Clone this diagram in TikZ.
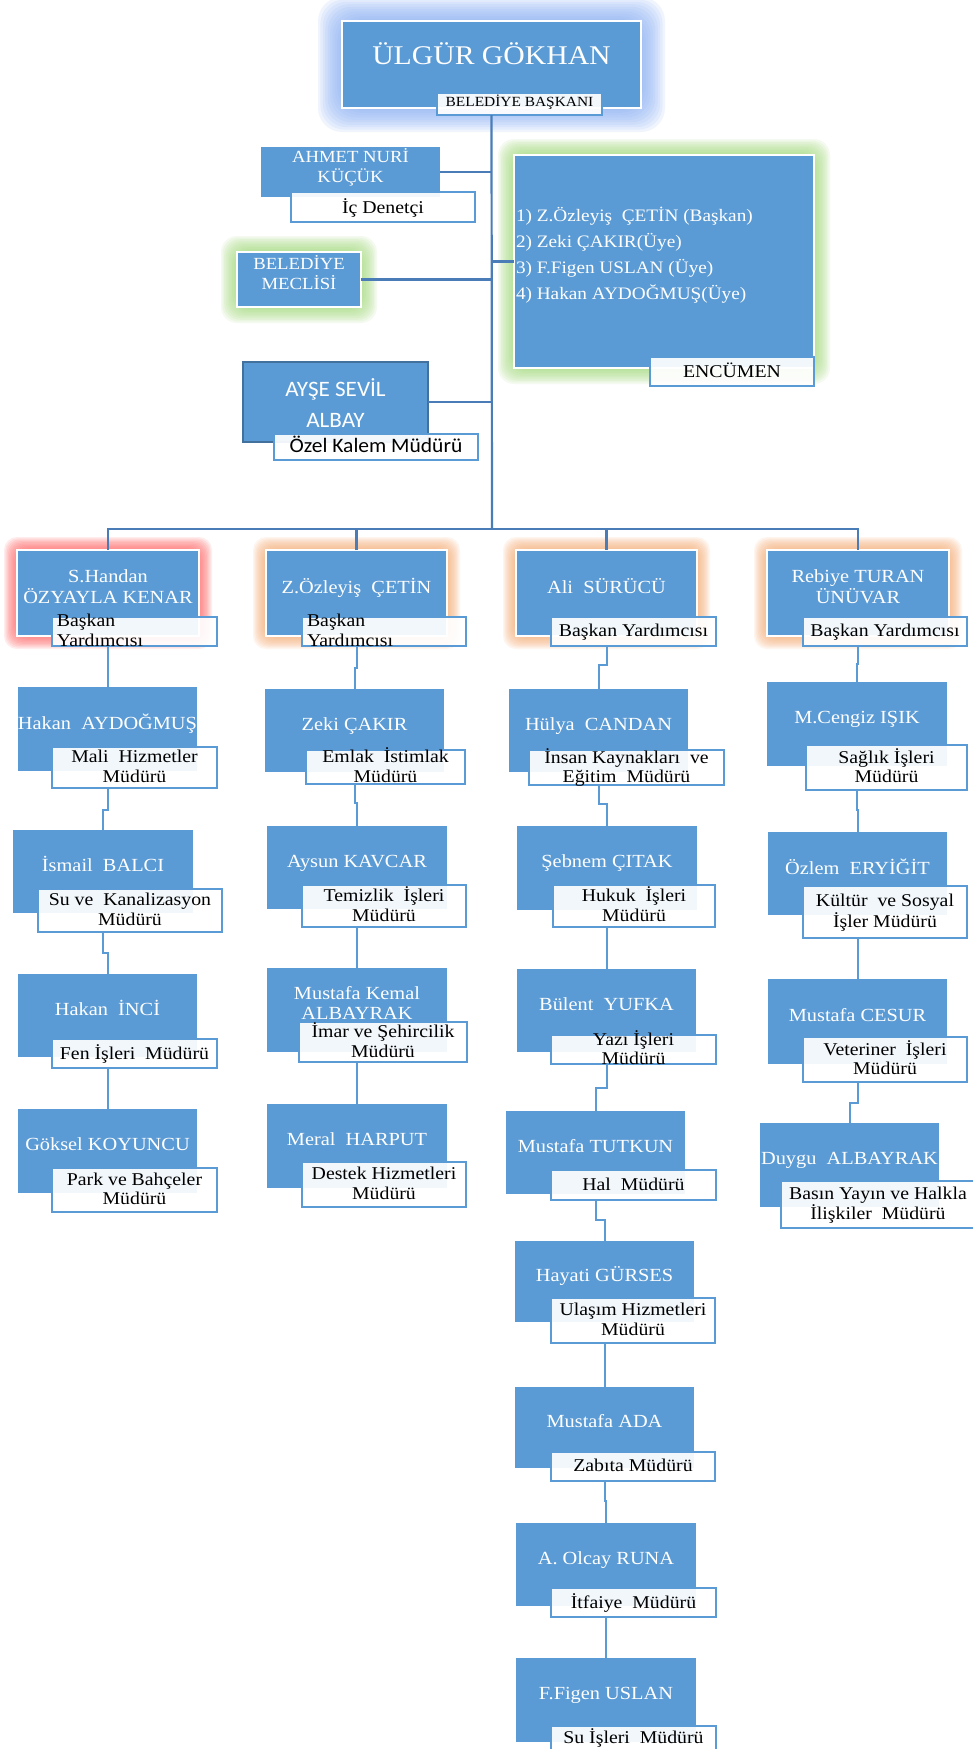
\documentclass[tikz,border=0pt]{standalone}
\usepackage{fontspec}
\setmainfont{Liberation Serif}[FakeStretch=1.1]
\newfontfamily\calib{Carlito}[FakeStretch=1.05]
\usetikzlibrary{backgrounds,calc}
\definecolor{boxblue}{HTML}{5B9BD5}
\definecolor{linkblue}{HTML}{5B9BD5}
\definecolor{trunkblue}{HTML}{4A7DB8}
\definecolor{aysedge}{HTML}{41719C}
\definecolor{glowblue}{HTML}{8AB0F5}
\definecolor{glowgreen}{HTML}{A6DC7E}
\definecolor{glowred}{HTML}{FF6E6E}
\definecolor{gloworange}{HTML}{F7AE78}
\newcommand\tx[2]{\raisebox{#1}[0pt][0pt]{\begin{tabular}{@{}c@{}}#2\end{tabular}}}
\newcommand\txl[4]{\makebox[#1][l]{\hspace{#2}\raisebox{#3}[0pt][0pt]{\begin{tabular}{@{}l@{}}#4\end{tabular}}}}
\newcommand\bx[7]{\node[#1,minimum width={(#5-#3)*1pt},minimum height={(#6-#4)*1pt}] (#2) at ({(#3+#5)/2},{(#4+#6)/2}) {#7};}
\newcommand\link[4]{\draw[conn] (#1.center |- #2.south) -- ++(0,#4) -| (#3.north);}
\newcommand\glow[4]{\foreach \k in {1,...,10}{\fill[#1,opacity=#4,rounded corners=#3pt] ([shift={(-\k*#3/10,-\k*#3/10)}]#2.north west) rectangle ([shift={(\k*#3/10,\k*#3/10)}]#2.south east);}}
\begin{document}
\begin{tikzpicture}[x=1pt,y=-1pt,
  every node/.style={inner sep=0pt,outer sep=0pt},
  namebox/.style={fill=boxblue,text=white,font=\fontsize{18.5}{20}\selectfont},
  whitebox/.style={namebox,draw=white,line width=1.5pt},
  lbl/.style={fill=white,fill opacity=0.92,text opacity=1,draw=boxblue,line width=1.6pt,text=black,font=\fontsize{18}{19.5}\selectfont},
  conn/.style={draw=linkblue,line width=2pt},
  trunk/.style={draw=trunkblue,line width=2.2pt}]
\useasboundingbox (0,0) rectangle (973,1749);
% top
\bx{whitebox,font=\fontsize{27}{30}\selectfont}{top}{342}{21}{641}{108}{\tx{0pt}{ÜLGÜR GÖKHAN}}
\bx{lbl,font=\fontsize{14}{15}\selectfont,line width=1.2pt}{toplbl}{437}{93}{602}{115}{\tx{-3pt}{BELEDİYE BAŞKANI}}
% side boxes
\bx{namebox,font=\fontsize{17}{20}\selectfont}{ahmet}{261}{147}{440}{197}{\tx{-1pt}{AHMET NURİ\\KÜÇÜK}}
\bx{lbl}{ahmetl}{291}{192}{475}{222}{\tx{-6pt}{İç Denetçi}}
\bx{whitebox,font=\fontsize{17}{19}\selectfont}{meclis}{237}{252}{361}{307}{\tx{0pt}{BELEDİYE\\MECLİSİ}}
\bx{whitebox,font=\fontsize{17.5}{26}\selectfont}{enc}{514}{155}{814}{368}{\txl{300pt}{2pt}{1.6pt}{1) Z.Özleyiş \ ÇETİN (Başkan)\\2) Zeki ÇAKIR(Üye)\\3) F.Figen USLAN (Üye)\\4) Hakan AYDOĞMUŞ(Üye)}}
\bx{lbl,font=\fontsize{18}{20}\selectfont}{encl}{650}{357}{814}{386}{\tx{-6pt}{ENCÜMEN}}
\bx{namebox,draw=aysedge,line width=2pt,font=\calib\fontsize{22}{31}\selectfont}{ayse}{243}{362}{428}{442}{\tx{-9pt}{AYŞE SEVİL\\ALBAY}}
\bx{lbl,font=\calib\fontsize{20.5}{23}\selectfont}{aysel}{274}{434}{478}{460}{\tx{-6pt}{Özel Kalem Müdürü}}
% vice presidents
\bx{whitebox}{vp1}{17}{550}{199}{636}{\tx{0pt}{S.Handan\\ÖZYAYLA KENAR}}
\bx{lbl}{vp1l}{52}{617}{217}{646}{\txl{165pt}{5pt}{-5.5pt}{Başkan\\Yardımcısı}}
\bx{whitebox}{vp2}{266}{550}{447}{636}{\tx{0pt}{Z.Özleyiş \ ÇETİN}}
\bx{lbl}{vp2l}{302}{617}{466}{646}{\txl{164pt}{5pt}{-5.5pt}{Başkan\\Yardımcısı}}
\bx{whitebox}{vp3}{516}{550}{697}{636}{\tx{0pt}{Ali \ SÜRÜCÜ}}
\bx{lbl}{vp3l}{551}{617}{716}{646}{\tx{-5.5pt}{Başkan Yardımcısı}}
\bx{whitebox}{vp4}{767}{550}{949}{636}{\tx{0pt}{Rebiye TURAN\\ÜNÜVAR}}
\bx{lbl}{vp4l}{803}{617}{967}{646}{\tx{-5.5pt}{Başkan Yardımcısı}}
% column 1
\bx{namebox}{c1a}{18}{687}{197}{771}{\tx{0pt}{Hakan \ AYDOĞMUŞ}}
\bx{lbl}{c1al}{52}{747}{217}{788}{\tx{-5.5pt}{Mali \ Hizmetler\\Müdürü}}
\bx{namebox}{c1b}{13}{830}{193}{913}{\tx{0pt}{İsmail \ BALCI}}
\bx{lbl}{c1bl}{38}{889}{222}{932}{\tx{-5.5pt}{Su ve \ Kanalizasyon\\Müdürü}}
\bx{namebox}{c1c}{18}{974}{197}{1057}{\tx{0pt}{Hakan \ İNCİ}}
\bx{lbl}{c1cl}{52}{1039}{217}{1068}{\tx{-5.5pt}{Fen İşleri \ Müdürü}}
\bx{namebox}{c1d}{18}{1109}{197}{1193}{\tx{0pt}{Göksel KOYUNCU}}
\bx{lbl}{c1dl}{52}{1168}{217}{1212}{\tx{-5.5pt}{Park ve Bahçeler\\Müdürü}}
% column 2
\bx{namebox}{c2a}{265}{689}{444}{772}{\tx{0pt}{Zeki ÇAKIR}}
\bx{lbl}{c2al}{306}{750}{465}{784}{\tx{-5.5pt}{Emlak \ İstimlak\\Müdürü}}
\bx{namebox}{c2b}{267}{826}{447}{909}{\tx{0pt}{Aysun KAVCAR}}
\bx{lbl}{c2bl}{302}{885}{466}{927}{\tx{-5.5pt}{Temizlik \ İşleri\\Müdürü}}
\bx{namebox}{c2c}{267}{968}{447}{1052}{\tx{0pt}{Mustafa Kemal\\ALBAYRAK}}
\bx{lbl}{c2cl}{299}{1022}{467}{1062}{\tx{-5.5pt}{İmar ve Şehircilik\\Müdürü}}
\bx{namebox}{c2d}{267}{1104}{447}{1188}{\tx{0pt}{Meral \ HARPUT}}
\bx{lbl}{c2dl}{302}{1162}{466}{1207}{\tx{-5.5pt}{Destek Hizmetleri\\Müdürü}}
% column 3
\bx{namebox}{c3a}{509}{689}{688}{772}{\tx{0pt}{Hülya \ CANDAN}}
\bx{lbl}{c3al}{529}{750}{724}{785}{\tx{-5.5pt}{İnsan Kaynakları \ ve\\Eğitim \ Müdürü}}
\bx{namebox}{c3b}{517}{826}{697}{910}{\tx{0pt}{Şebnem ÇITAK}}
\bx{lbl}{c3bl}{553}{885}{715}{927}{\tx{-5.5pt}{Hukuk \ İşleri\\Müdürü}}
\bx{namebox}{c3c}{517}{969}{696}{1052}{\tx{0pt}{Bülent \ YUFKA}}
\bx{lbl}{c3cl}{551}{1035}{716}{1064}{\tx{-5.5pt}{Yazı İşleri\\Müdürü}}
\bx{namebox}{c3d}{506}{1111}{685}{1194}{\tx{0pt}{Mustafa TUTKUN}}
\bx{lbl}{c3dl}{551}{1170}{716}{1200}{\tx{-5.5pt}{Hal \ Müdürü}}
\bx{namebox}{c3e}{515}{1241}{694}{1322}{\tx{0pt}{Hayati GÜRSES}}
\bx{lbl}{c3el}{551}{1298}{715}{1343}{\tx{-5.5pt}{Ulaşım Hizmetleri\\Müdürü}}
\bx{namebox}{c3f}{515}{1387}{694}{1468}{\tx{0pt}{Mustafa ADA}}
\bx{lbl}{c3fl}{551}{1452}{715}{1481}{\tx{-5.5pt}{Zabıta Müdürü}}
\bx{namebox}{c3g}{516}{1523}{696}{1606}{\tx{0pt}{A. Olcay RUNA}}
\bx{lbl}{c3gl}{551}{1588}{716}{1617}{\tx{-5.5pt}{İtfaiye \ Müdürü}}
\bx{namebox}{c3h}{516}{1658}{696}{1742}{\tx{0pt}{F.Figen USLAN}}
\bx{lbl}{c3hl}{551}{1726}{716}{1756}{\tx{-2.5pt}{Su İşleri \ Müdürü}}
% column 4
\bx{namebox}{c4a}{767}{682}{947}{766}{\tx{0pt}{M.Cengiz IŞIK}}
\bx{lbl}{c4al}{806}{745}{967}{790}{\tx{-5.5pt}{Sağlık İşleri\\Müdürü}}
\bx{namebox}{c4b}{768}{832}{947}{915}{\tx{0pt}{Özlem \ ERYİĞİT}}
\bx{lbl}{c4bl}{803}{886}{967}{938}{\tx{-5.5pt}{Kültür \ ve Sosyal\\İşler Müdürü}}
\bx{namebox}{c4c}{768}{979}{947}{1064}{\tx{0pt}{Mustafa CESUR}}
\bx{lbl}{c4cl}{803}{1037}{967}{1082}{\tx{-5.5pt}{Veteriner \ İşleri\\Müdürü}}
\bx{namebox}{c4d}{760}{1123}{939}{1207}{\tx{0pt}{Duygu \ ALBAYRAK}}
\bx{lbl}{c4dl}{781}{1181}{975}{1228}{\tx{-5.5pt}{Basın Yayın ve Halkla\\İlişkiler \ Müdürü}}
% trunk and bus
\coordinate (bus) at (492,529);
\draw[trunk] (top.center |- toplbl.south) -- (bus);
\draw[trunk] (vp1.north) |- (bus) -| (vp4.north);
\draw[trunk] (vp2.north) -- (vp2.north |- bus);
\draw[trunk] (vp3.north) -- (vp3.north |- bus);
\draw[trunk] (ahmet.east) -- (ahmet.east -| bus);
\draw[trunk] (meclis.east) -- (meclis.east -| bus);
\draw[trunk] (enc.west) -- (enc.west -| bus);
\draw[trunk] (ayse.east) -- (ayse.east -| bus);
% children links
\link{vp1}{vp1l}{c1a}{20}
\link{c1a}{c1al}{c1b}{22}
\link{c1b}{c1bl}{c1c}{21}
\link{c1c}{c1cl}{c1d}{20}
\link{vp2}{vp2l}{c2a}{22}
\link{c2a}{c2al}{c2b}{19}
\link{c2b}{c2bl}{c2c}{19}
\link{c2c}{c2cl}{c2d}{21}
\link{vp3}{vp3l}{c3a}{19}
\link{c3a}{c3al}{c3b}{19}
\link{c3b}{c3bl}{c3c}{20}
\link{c3c}{c3cl}{c3d}{24}
\link{c3d}{c3dl}{c3e}{20}
\link{c3e}{c3el}{c3f}{22}
\link{c3f}{c3fl}{c3g}{20}
\link{c3g}{c3gl}{c3h}{20}
\link{vp4}{vp4l}{c4a}{18}
\link{c4a}{c4al}{c4b}{20}
\link{c4b}{c4bl}{c4c}{20}
\link{c4c}{c4cl}{c4d}{21}
% glows
\begin{scope}[on background layer]
\fill[white] (0,0) rectangle (973,1749);
\glow{glowblue}{top}{24}{0.12}
\glow{glowgreen}{meclis}{16}{0.12}
\glow{glowgreen}{enc}{16}{0.12}
\glow{glowred}{vp1}{13}{0.13}
\glow{gloworange}{vp2}{13}{0.12}
\glow{gloworange}{vp3}{13}{0.12}
\glow{gloworange}{vp4}{13}{0.12}
\end{scope}
\end{tikzpicture}
\end{document}
